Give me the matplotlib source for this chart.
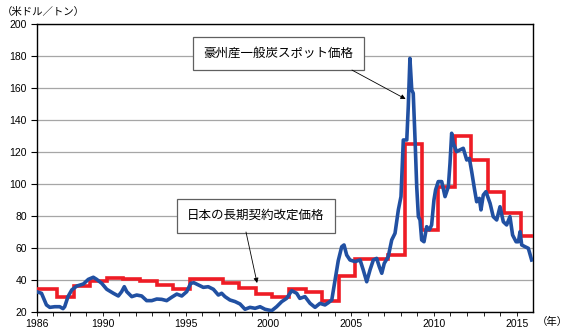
import matplotlib
matplotlib.use("Agg")
import matplotlib.pyplot as plt
import numpy as np

plt.rcParams['font.family'] = ['Liberation Sans', 'Noto Sans CJK JP']

# Australian thermal coal spot price (USD/t), roughly monthly
spot_years = [1986.0, 1986.3, 1986.6, 1986.8, 1987.1, 1987.4, 1987.6, 1987.7, 1987.9,
              1988.13, 1988.43, 1988.83, 1989.13, 1989.43, 1989.63, 1989.94, 1990.24,
              1990.64, 1990.94, 1991.14, 1991.3, 1991.45, 1991.75, 1992.05, 1992.35,
              1992.65, 1992.96, 1993.26, 1993.56, 1993.86, 1994.16, 1994.47, 1994.77,
              1995.07, 1995.31, 1995.5, 1995.77, 1996.07, 1996.37, 1996.68, 1996.98,
              1997.18, 1997.38, 1997.68, 1997.99, 1998.29, 1998.59, 1998.89, 1999.2,
              1999.5, 1999.8, 2000.2, 2000.5, 2000.81, 2001.1, 2001.41, 2001.71, 2001.9,
              2002.21, 2002.52, 2002.82, 2003.12, 2003.42, 2003.62, 2003.83, 2004.03,
              2004.22, 2004.43, 2004.57, 2004.73, 2004.93, 2005.23, 2005.54, 2005.73,
              2005.94, 2006.14, 2006.34, 2006.54, 2006.7, 2006.85, 2007.0, 2007.24,
              2007.45, 2007.65, 2007.85, 2008.01, 2008.15, 2008.36, 2008.45, 2008.55,
              2008.66, 2008.75, 2008.86, 2008.96, 2009.06, 2009.16, 2009.26, 2009.4,
              2009.56, 2009.72, 2009.86, 2010.0, 2010.1, 2010.26, 2010.47, 2010.67,
              2010.87, 2010.97, 2011.07, 2011.17, 2011.37, 2011.57, 2011.77, 2011.98,
              2012.14, 2012.28, 2012.44, 2012.58, 2012.74, 2012.84, 2012.98, 2013.14,
              2013.39, 2013.58, 2013.79, 2013.99, 2014.19, 2014.39, 2014.59, 2014.75,
              2014.96, 2015.1, 2015.2, 2015.3, 2015.5, 2015.7, 2015.9]
spot_prices = [32.7, 31.7, 24.4, 22.9, 23.3, 23.3, 22.1, 23.3, 29.6,
               33.8, 36.2, 37.5, 40.4, 41.7, 40.4, 37.9, 34.2,
               31.7, 30.0, 32.7, 35.8, 32.7, 29.6, 30.6, 30.0,
               27.1, 27.1, 28.1, 27.9, 27.1, 29.2, 31.2, 30.0,
               32.7, 37.9, 38.3, 36.9, 35.4, 35.8, 34.2, 30.6,
               31.7, 29.6, 27.5, 26.5, 25.0, 21.7, 22.9, 22.3,
               23.3, 21.7, 20.8, 23.3, 26.5, 28.5, 33.3, 31.7, 28.5,
               29.6, 25.4, 22.9, 25.4, 24.4, 25.8, 27.5, 40.0,
               52.0, 60.8, 61.9, 55.6, 52.5, 51.5, 52.5, 46.3,
               38.9, 46.3, 52.5, 53.5, 48.3, 44.2, 50.4, 54.6,
               65.0, 69.2, 83.8, 92.1, 127.5, 127.5, 148.3, 178.5,
               158.8, 156.7, 127.5, 98.3, 79.6, 77.5, 65.0, 63.9,
               73.3, 71.3, 74.4, 90.0, 96.3, 101.5, 101.5, 92.1,
               98.3, 112.9, 131.7, 125.4, 120.2, 121.3, 122.3, 115.0,
               116.0, 107.7, 97.3, 88.9, 91.0, 83.8, 93.1, 95.2,
               87.9, 79.6, 77.5, 85.8, 76.4, 74.4, 79.6, 68.1,
               63.9, 63.9, 70.2, 61.9, 60.8, 59.8, 52.5]

# Japanese long-term contract price, revised each fiscal year (April)
contract_start = [1986.0, 1987.25, 1988.25, 1989.25, 1990.25, 1991.25, 1992.25, 1993.25,
                  1994.25, 1995.25, 1996.25, 1997.25, 1998.25, 1999.25, 2000.25, 2001.25,
                  2002.25, 2003.25, 2004.25, 2005.25, 2006.25, 2007.25, 2008.25, 2009.25,
                  2010.25, 2011.25, 2012.25, 2013.25, 2014.25, 2015.25, 2016.0]
contract_price = [34.5, 29.5, 36.0, 39.5, 41.0, 40.5, 39.5, 37.0,
                  34.5, 40.5, 40.5, 38.4, 35.3, 31.0, 29.5, 34.5,
                  32.6, 27.0, 42.5, 53.0, 53.0, 55.6, 125.3, 71.0,
                  98.0, 130.0, 115.0, 95.0, 82.0, 67.8, 67.8]

year_labels = [1986, 1990, 1995, 2000, 2005, 2010, 2015]

fig = plt.figure(figsize=(5.68, 3.34), dpi=100)
ax = fig.add_axes([0.0643, 0.0659, 0.8746, 0.8623])

ax.step(contract_start, contract_price, where='post', color='#ee1c25', lw=2.6,
        zorder=3, solid_joinstyle='miter')
ax.plot(spot_years, spot_prices, color='#2150a2', lw=2.6, zorder=4)

ax.set_xlim(1986, 2016)
ax.set_ylim(20, 200)
ax.set_yticks(np.arange(20, 201, 20))
ax.set_xticks(year_labels)
ax.set_xticks(np.arange(1986, 2016), minor=True)
ax.grid(axis='y', color='#a6a6a6', lw=0.9)
ax.set_axisbelow(True)
ax.tick_params(axis='y', direction='out', length=4, width=0.8, labelsize=7.5, pad=3)
ax.tick_params(axis='x', which='both', direction='out', length=3, width=0.6,
               labelsize=7.5, pad=2)
for s in ax.spines.values():
    s.set_linewidth(1.0)
    s.set_color('black')

box = dict(boxstyle='square,pad=0.85', fc='white', ec='#606060', lw=0.9)
arrow = dict(arrowstyle='-|>', color='black', lw=0.6, mutation_scale=7,
             shrinkA=0, shrinkB=0)

ax.text(2000.6, 181.6, '豪州産一般炭スポット価格', fontsize=9, ha='center',
        va='center', bbox=box, zorder=6)
ax.annotate('', xy=(2008.29, 153.1), xytext=(2005.05, 171.2), arrowprops=arrow, zorder=6)

ax.text(1999.25, 80, '日本の長期契約改定価格', fontsize=9, ha='center',
        va='center', bbox=box, zorder=6)
ax.annotate('', xy=(1999.32, 38.1), xytext=(1998.65, 70), arrowprops=arrow, zorder=6)

fig.text(0.003, 0.964, '（米ドル／トン）', fontsize=7.5, ha='left', va='center')
fig.text(0.945, 0.036, '（年）', fontsize=7.5, ha='left', va='center')

fig.savefig('out.png', dpi=100)
